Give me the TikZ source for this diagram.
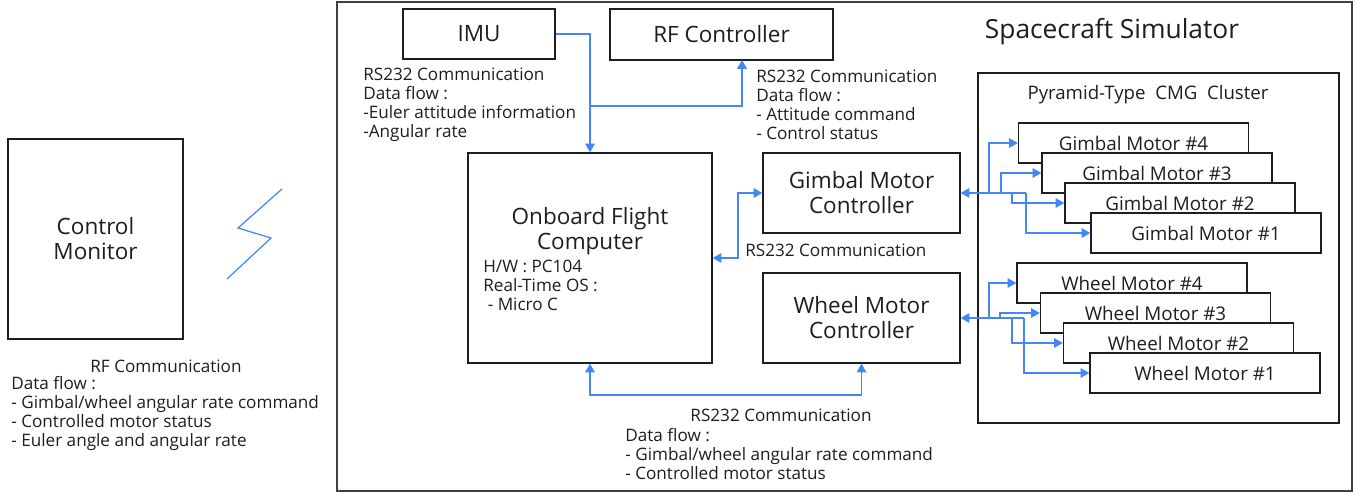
\documentclass[tikz,border=0pt]{standalone}
\usepackage{fontspec}
\setmainfont{Open Sans}
\usetikzlibrary{arrows.meta}
\definecolor{wire}{RGB}{66,135,245}
\definecolor{ink}{RGB}{30,30,30}
\tikzset{
	box/.style={draw=ink, line width=0.8pt, fill=white, inner sep=0pt, align=center, font=\fontsize{12.8}{14.2}\selectfont},
	motor/.style={box, minimum width=4.6cm, minimum height=0.8cm, font=\fontsize{10.7}{12}\selectfont},
	note/.style={inner sep=0pt, align=left, anchor=west, font=\fontsize{9.75}{10.8}\selectfont},
	link/.style={draw=wire, line width=0.75pt, -{Triangle[length=5pt,width=5.5pt]}},
	duplex/.style={link, {Triangle[length=5pt,width=5.5pt]}-{Triangle[length=5pt,width=5.5pt]}},
	bus/.style={link, {Triangle[length=5pt,width=5.5pt]}-},
}
\begin{document}
\begin{tikzpicture}[x=0.02cm, y=-0.02cm, text=ink]
	\useasboundingbox (0,0) rectangle (1356,493);
	
	\node[box, draw=ink!85, minimum width=20.3cm, minimum height=9.78cm] (sim) at (844.5,246.5) {};
	\node[font=\fontsize{15}{18}\selectfont] (simtitle) at (1112,32) {Spacecraft Simulator};
	\node[box, minimum width=7.22cm, minimum height=7cm] (cmg) at (1158.5,248) {};
	\node[font=\fontsize{10.6}{12}\selectfont] (cmgtitle) at (1148,95) {Pyramid-Type\ \ CMG\ \ Cluster};
	
	\node[box, minimum width=3.04cm, minimum height=1cm] (imu) at (479,34) {IMU};
	\node[box, minimum width=4.46cm, minimum height=1.02cm] (rfc) at (721.5,34.5) {RF Controller};
	\node[box, minimum width=4.88cm, minimum height=4.2cm] (obc) at (590,258) {};
	\node[align=center, font=\fontsize{12.8}{14.2}\selectfont] (obctitle) at (590,231) {Onboard Flight\\Computer};
	\node[note] (obcspec) at (483,285) {H/W : PC104\\Real-Time OS :\\\ - Micro C};
	\node[box, minimum width=3.94cm, minimum height=1.6cm] (gmc) at (861.5,193) {Gimbal Motor\\Controller};
	\node[box, minimum width=3.94cm, minimum height=1.8cm] (wmc) at (861.5,318) {Wheel Motor\\Controller};
	\node[box, minimum width=3.5cm, minimum height=4cm] (cm) at (95.5,239) {Control\\Monitor};
	
	\foreach \i/\x/\y in {4/1133.5/143, 3/1157/173, 2/1180/203, 1/1206/233}
		\node[motor] (gm\i) at (\x,\y) {Gimbal Motor \#\i};
	\foreach \i/\x/\y in {4/1132/283, 3/1155.5/313, 2/1178.5/343, 1/1205/373}
		\node[motor] (wm\i) at (\x,\y) {Wheel Motor \#\i};
	
	\coordinate (imujoin) at (590,106);
	\coordinate (rfin) at (742,60);
	\coordinate (obcbend) at (738,193);
	\coordinate (botbend) at (720,395);
	\coordinate (gbend) at (1026,193);
	\coordinate (wbend) at (1024,318);
	
	\draw[link] (imu.east) -| (obc.north);
	\draw[link] (imujoin) -| (rfin);
	\draw[duplex] (obc.east) -| (obcbend) -- (gmc.west);
	\draw[duplex] (obc.south) |- (botbend) -| (wmc.south);
	
	\draw[bus] (gmc.east) -- (gbend);
	\foreach \i/\x in {4/989, 3/1001, 2/1012, 1/1026}{
		\coordinate (gb\i) at (\x,193);
		\draw[link] (gb\i) |- (gm\i.west);
	}
	\draw[bus] (wmc.east) -- (wbend);
	\foreach \i/\x in {4/989, 3/1000, 2/1012, 1/1024}{
		\coordinate (wb\i) at (\x,318);
		\draw[link] (wb\i) |- (wm\i.west);
	}
	
	\draw[wire, line width=0.7pt] (282,189) -- (238,228) -- (271,238) -- (227,279);
	
	\node[note] (imunote) at (363,104.5) {RS232 Communication\\Data flow :\\-Euler attitude information\\-Angular rate};
	\node[note] (rfnote) at (756,104.5) {RS232 Communication\\Data flow :\\- Attitude command\\- Control status};
	\node[note] (obclink) at (745,250) {RS232 Communication};
	\node[note, anchor=center] (wmctitle) at (781,415) {RS232 Communication};
	\node[note] (wmcflow) at (625,454.5) {Data flow :\\- Gimbal/wheel angular rate command\\- Controlled motor status};
	\node[note, anchor=center] (rftitle) at (166,366) {RF Communication};
	\node[note] (rfflow) at (11,413.5) {Data flow :\\- Gimbal/wheel angular rate command\\- Controlled motor status\\- Euler angle and angular rate};
\end{tikzpicture}
\end{document}
